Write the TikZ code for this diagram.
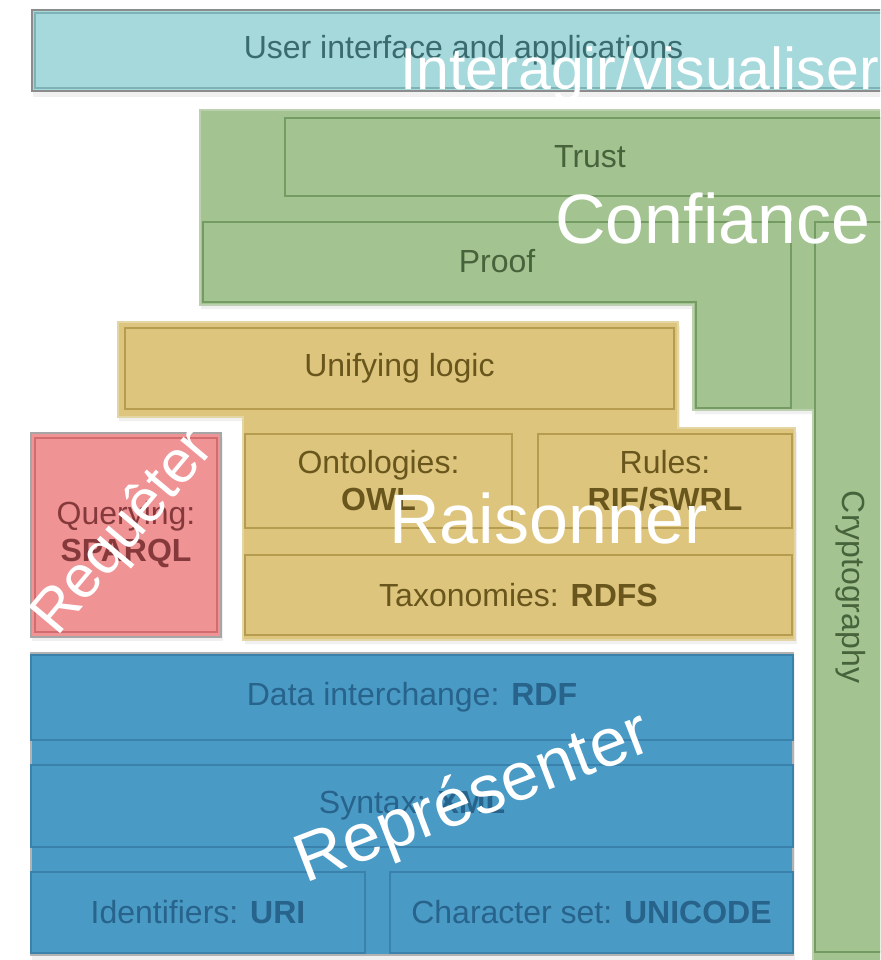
\documentclass[tikz,border=0pt]{standalone}
\usepackage{fontspec}
\setmainfont{Liberation Sans}
\definecolor{cyanF}{HTML}{A6D9DC}
\definecolor{cyanD}{HTML}{7DB3B6}
\definecolor{cyanT}{HTML}{3A6B6E}
\definecolor{greenF}{HTML}{A3C491}
\definecolor{greenD}{HTML}{749C62}
\definecolor{greenT}{HTML}{46633B}
\definecolor{greenO}{HTML}{BCD0B0}
\definecolor{yelF}{HTML}{DEC57D}
\definecolor{yelD}{HTML}{B69C4E}
\definecolor{yelT}{HTML}{69561C}
\definecolor{yelO}{HTML}{E4D6A4}
\definecolor{redF}{HTML}{F09395}
\definecolor{redD}{HTML}{D26C6E}
\definecolor{redT}{HTML}{86393B}
\definecolor{bluF}{HTML}{4A9AC6}
\definecolor{bluD}{HTML}{3A81AC}
\definecolor{bluT}{HTML}{27638B}
\begin{document}
\begin{tikzpicture}[x=1pt,y=-1pt,
  lbl/.style={font=\fontsize{32}{37}\selectfont, align=center},
  inbox/.style={lbl, draw, line width=2.5pt, inner sep=0pt},
  over/.style={text=white, inner sep=0pt, font=\fontsize{70}{70}\selectfont},
  shade/.style={fill=black!6}
]
\useasboundingbox (0,0) rectangle (880,960);
\clip (0,0) rectangle (880,960);
\fill[white] (0,0) rectangle (880,960);

% ---------- shadows ----------
\fill[shade] (33,14) rectangle (900,97);
\fill[shade] (201,114) -- (900,114) -- (900,970) -- (815,970) -- (815,414) -- (695,414) -- (695,309) -- (201,309) -- cycle;
\fill[shade] (119,326) -- (680,326) -- (680,432) -- (797,432) -- (797,644) -- (245,644) -- (245,421) -- (119,421) -- cycle;
\fill[shade] (32,437) rectangle (223,641);
\fill[shade] (32,657) rectangle (795,960);

% ---------- user interface ----------
\node[inbox, fill=cyanF, draw=black!45, line width=2pt, text=cyanT,
      minimum width=863, minimum height=81] (ui) at (463.5,50.5) {User interface and applications};
\draw[cyanD, line width=1.5pt] (35,13) rectangle (900,88);

% ---------- green group ----------
\draw[fill=greenF, draw=greenO, line width=2pt]
  (200,110) -- (900,110) -- (900,970) -- (813,970) -- (813,410) -- (693,410) -- (693,305) -- (200,305) -- cycle;
\node[inbox, fill=greenF, draw=greenD, text=greenT,
      minimum width=610, minimum height=78] (trust) at (590,157) {Trust};
\draw[fill=greenF, draw=greenD, line width=2.5pt]
  (203,222) -- (791,222) -- (791,408) -- (696,408) -- (696,302) -- (203,302) -- cycle;
\node[lbl, text=greenT, inner sep=0pt] (proof) at (497,261) {Proof};
\node[inbox, fill=greenF, draw=greenD, text=greenT, rotate=-90,
      minimum width=730, minimum height=72] (crypto) at (851,587) {Cryptography};

% ---------- yellow group ----------
\draw[fill=yelF, draw=yelO, line width=2pt]
  (118,322) -- (678,322) -- (678,428) -- (795,428) -- (795,640) -- (243,640) -- (243,417) -- (118,417) -- cycle;
\node[inbox, fill=yelF, draw=yelD, text=yelT,
      minimum width=549, minimum height=81] (logic) at (399.5,368.5) {Unifying logic};
\node[inbox, fill=yelF, draw=yelD, text=yelT,
      minimum width=267, minimum height=94] (owl) at (378.5,481) {Ontologies:\\\textbf{OWL}};
\node[inbox, fill=yelF, draw=yelD, text=yelT,
      minimum width=254, minimum height=94] (rules) at (665,481) {Rules:\\\textbf{RIF/SWRL}};
\node[inbox, fill=yelF, draw=yelD, text=yelT,
      minimum width=547, minimum height=80] (rdfs) at (518.5,595) {Taxonomies: \textbf{RDFS}};

% ---------- red ----------
\node[inbox, fill=redF, draw=black!35, line width=2pt, text=redT,
      minimum width=190, minimum height=204] (sparql) at (126,535) {Querying:\\\textbf{SPARQL}};
\draw[redD, line width=1.5pt] (35,438) rectangle (217,632);

% ---------- blue group ----------
\draw[fill=bluF, draw=black!30, line width=2pt] (31,653) rectangle (793,955);
\node[inbox, fill=bluF, draw=bluD, text=bluT,
      minimum width=762, minimum height=85] (rdf) at (412,697.5) {Data interchange: \textbf{RDF}};
\node[inbox, fill=bluF, draw=bluD, text=bluT,
      minimum width=762, minimum height=82] (xml) at (412,806) {Syntax: \textbf{XML}};
\node[inbox, fill=bluF, draw=bluD, text=bluT,
      minimum width=334, minimum height=81] (uri) at (198,912.5) {Identifiers: \textbf{URI}};
\node[inbox, fill=bluF, draw=bluD, text=bluT,
      minimum width=403, minimum height=81] (uni) at (591.5,912.5) {Character set: \textbf{UNICODE}};

% ---------- white overlays ----------
\node[over, anchor=base west, font=\fontsize{59}{59}\selectfont] (ovA) at (400,90) {Interagir/visualiser};
\node[over, anchor=base west] (ovB) at (555,243) {Confiance};
\node[over, anchor=base west] (ovC) at (389,543) {Raisonner};
\node[over, anchor=base west, rotate=50, font=\fontsize{60}{60}\selectfont] (ovD) at (57,638) {Requêter};
\node[over, anchor=base west, rotate=21, font=\fontsize{68}{68}\selectfont] (ovE) at (305,884) {Représenter};
\end{tikzpicture}
\end{document}
